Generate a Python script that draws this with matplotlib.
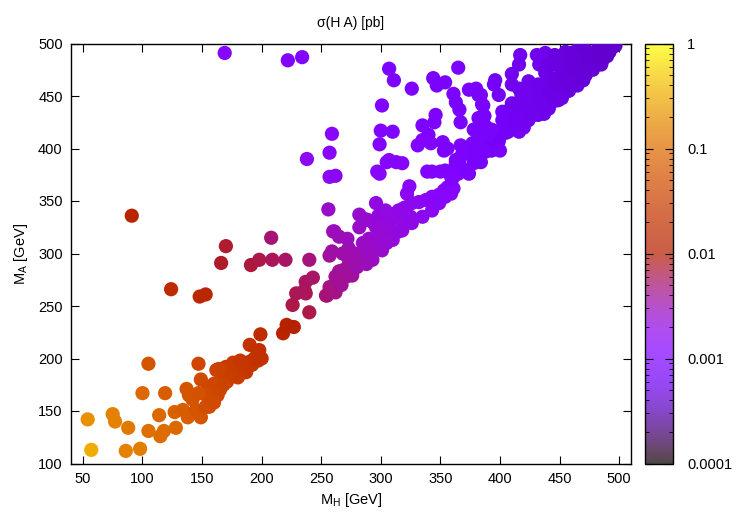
import numpy as np
import matplotlib
matplotlib.use("Agg")
import matplotlib.pyplot as plt
from matplotlib.colors import LogNorm
from matplotlib.ticker import LogLocator, FixedLocator, FuncFormatter, MultipleLocator

plt.rcParams['font.family'] = ['Liberation Sans', 'DejaVu Sans']

# low masses (orange / red)
low_mh = [57, 54, 75, 77, 88, 86, 98, 100, 105, 105, 114, 115, 118, 119, 124, 128, 127, 134, 137, 138,
          142, 143, 145, 147, 149, 149, 148, 153, 153, 156, 157, 163, 162, 166, 171, 173, 166, 170, 179, 184,
          183, 190, 187, 197, 198, 190, 199, 200, 191, 198, 218, 221, 227, 208, 209, 220, 91, 155, 158, 160,
          165, 168, 170, 175, 178, 180, 185, 188, 192, 194, 196, 160, 164, 152, 168, 176, 182, 139, 147]
low_ma = [113, 142, 147, 140, 134, 112, 114, 167, 131, 195, 146, 126, 131, 167, 266, 134, 149, 151, 171, 144,
          161, 148, 151, 195, 180, 144, 259, 261, 154, 154, 162, 165, 189, 179, 178, 191, 291, 307, 195, 195,
          186, 197, 187, 198, 208, 213, 223, 200, 289, 294, 224, 232, 230, 315, 294, 294, 336, 172, 168, 176,
          170, 184, 192, 185, 190, 182, 190, 195, 194, 200, 203, 158, 190, 166, 175, 196, 198, 165, 167]
low_xs = [0.32, 0.2, 0.15, 0.15, 0.13, 0.15, 0.14, 0.09, 0.11, 0.06, 0.09, 0.1, 0.1, 0.07, 0.016, 0.09, 0.08, 0.07, 0.06, 0.07,
          0.06, 0.065, 0.06, 0.04, 0.045, 0.06, 0.014, 0.013, 0.05, 0.05, 0.045, 0.04, 0.035, 0.035, 0.032, 0.03, 0.008, 0.0075, 0.025, 0.024,
          0.025, 0.022, 0.024, 0.02, 0.019, 0.02, 0.016, 0.02, 0.007, 0.0065, 0.012, 0.011, 0.011, 0.005, 0.006, 0.0055, 0.012, 0.042, 0.042, 0.04,
          0.038, 0.034, 0.031, 0.031, 0.028, 0.029, 0.026, 0.024, 0.023, 0.021, 0.02, 0.045, 0.034, 0.045, 0.036, 0.028, 0.025, 0.06, 0.055]

# intermediate masses (magenta / purple)
mid_mh = [226, 229, 237, 236, 237, 243, 240, 240, 254, 257, 261, 255, 262, 262, 265, 276, 273, 257, 259, 272,
          273, 265, 261, 272, 282, 282, 289, 296, 283, 293, 287, 290, 299, 301, 296, 308, 310, 315, 319, 322,
          256, 286, 260, 268, 279, 296, 305, 312, 312, 293, 298, 304, 265, 271, 267, 268, 278, 285, 292, 298,
          318, 325, 280, 288, 300, 301, 315, 321, 326, 332, 338, 343, 349, 353, 356, 310, 318, 326, 335, 343,
          349, 354, 359, 361, 304, 298]
mid_ma = [251, 262, 262, 265, 273, 277, 244, 294, 260, 268, 265, 260, 263, 278, 283, 279, 289, 298, 302, 297,
          305, 316, 321, 314, 325, 337, 332, 348, 295, 294, 305, 314, 319, 303, 325, 332, 313, 321, 343, 357,
          342, 333, 321, 284, 292, 308, 310, 321, 338, 330, 336, 341, 275, 278, 270, 300, 300, 310, 300, 308,
          330, 335, 287, 290, 312, 325, 341, 344, 348, 349, 351, 354, 356, 360, 363, 319, 322, 329, 335, 341,
          348, 354, 357, 362, 313, 316]
mid_xs = [0.0065, 0.0062, 0.006, 0.006, 0.0058, 0.0055, 0.0065, 0.0048, 0.005, 0.0045, 0.0045, 0.005, 0.0045, 0.0042, 0.004, 0.0038, 0.0036, 0.0038, 0.0036, 0.0034,
          0.0032, 0.0032, 0.0032, 0.003, 0.0027, 0.0025, 0.0024, 0.0021, 0.003, 0.0028, 0.0027, 0.0026, 0.0024, 0.0025, 0.0024, 0.0021, 0.0022, 0.0021, 0.0018, 0.0017,
          0.0027, 0.0025, 0.003, 0.0038, 0.0034, 0.0026, 0.0025, 0.0022, 0.002, 0.0024, 0.0022, 0.002, 0.004, 0.0039, 0.004, 0.0034, 0.0032, 0.0028, 0.0028, 0.0026,
          0.002, 0.0019, 0.0033, 0.003, 0.0025, 0.0023, 0.0019, 0.0018, 0.0017, 0.0016, 0.0015, 0.0014, 0.0013, 0.0013, 0.0012, 0.0022, 0.0021, 0.0019, 0.0017, 0.0015,
          0.0014, 0.0013, 0.0013, 0.0012, 0.0023, 0.0024]

# scattered points above the band
up_mh = [169, 222, 234, 259, 257, 238, 257, 262, 299, 299, 297, 307, 313, 318, 324, 301, 307, 311, 326, 310,
         300, 335, 346, 345, 340, 342, 331, 335, 352, 353, 356, 367, 370, 344, 347, 354, 365, 361, 363, 366,
         367, 374, 380, 384, 386, 387, 381, 385, 379, 384, 378, 366, 374, 377, 363, 305, 339, 343, 354, 359,
         361, 365, 350, 363, 368, 372, 377, 385, 391, 382, 388, 393, 360]
up_ma = [491, 484, 487, 414, 396, 390, 373, 374, 404, 376, 378, 389, 387, 386, 364, 441, 476, 465, 457, 416,
         417, 422, 432, 425, 413, 405, 403, 408, 406, 398, 400, 403, 395, 467, 460, 463, 477, 452, 444, 437,
         425, 456, 457, 451, 441, 431, 416, 410, 400, 387, 386, 386, 376, 392, 386, 387, 378, 378, 379, 373,
         375, 376, 378, 389, 394, 379, 405, 405, 408, 392, 398, 398, 371]
up_xs = [0.0012, 0.0011, 0.001, 0.0013, 0.0014, 0.0016, 0.0016, 0.0015, 0.0011, 0.0013, 0.0013, 0.0012, 0.0012, 0.0012, 0.0013, 0.001, 0.0009, 0.0009, 0.0009, 0.001,
         0.001, 0.0009, 0.0009, 0.0009, 0.0009, 0.001, 0.001, 0.001, 0.0009, 0.0009, 0.0009, 0.0009, 0.0009, 0.0008, 0.0008, 0.0008, 0.0008, 0.0008, 0.0008, 0.0008,
         0.0008, 0.0008, 0.0008, 0.0008, 0.0008, 0.0008, 0.0008, 0.0008, 0.0008, 0.0008, 0.0008, 0.0009, 0.0009, 0.0008, 0.0009, 0.0012, 0.001, 0.001, 0.001, 0.001,
         0.001, 0.001, 0.001, 0.0009, 0.0009, 0.0009, 0.0008, 0.0008, 0.0008, 0.0008, 0.0008, 0.0008, 0.001]

# heavy masses, dense band near the diagonal
high_mh = [396, 392, 400, 407, 416, 405, 421, 396, 399, 417, 416, 410, 431, 438, 433, 395, 410, 416, 410, 416,
           421, 427, 402, 413, 416, 378, 384, 393, 399, 382, 393, 399, 407, 413, 418, 424, 432, 441, 449, 455,
           463, 472, 480, 488, 497, 402, 410, 418, 424, 438, 441, 446, 455, 466, 483, 494, 410, 416, 424, 430,
           427, 435, 438, 444, 446, 452, 455, 458, 460, 466, 469, 474, 477, 483, 486, 491, 452, 460, 472, 446,
           432, 382, 385, 382, 388, 391, 388, 382, 405, 440, 450, 445, 460, 470, 480, 435, 425, 450, 465, 475,
           488, 495, 490, 478, 405, 412, 420, 428, 436, 442, 448, 455, 462, 468, 475, 482, 437, 445, 452, 458,
           465, 470, 478, 485, 492, 420, 428, 400, 433, 457]
high_ma = [403, 411, 417, 421, 427, 435, 433, 465, 451, 489, 480, 471, 489, 491, 480, 461, 461, 457, 440, 443,
           446, 449, 427, 421, 416, 418, 421, 418, 408, 388, 400, 407, 416, 419, 426, 427, 432, 438, 446, 454,
           461, 470, 480, 489, 498, 435, 443, 451, 464, 472, 480, 489, 492, 496, 498, 498, 432, 438, 442, 448,
           454, 454, 461, 467, 457, 473, 464, 480, 470, 486, 476, 489, 483, 491, 484, 494, 486, 491, 494, 480,
           461, 451, 442, 429, 421, 413, 397, 410, 426, 450, 460, 445, 478, 485, 490, 440, 435, 452, 468, 478,
           495, 497, 488, 488, 415, 428, 440, 440, 447, 455, 462, 470, 475, 480, 485, 487, 433, 450, 448, 455,
           460, 465, 475, 480, 492, 420, 432, 398, 444, 462]
high_xs = [0.0007, 0.0007, 0.0007, 0.0007, 0.0007, 0.0007, 0.0007, 0.0006, 0.0007, 0.0006, 0.0006, 0.0006, 0.0006, 0.0006, 0.0006, 0.0007, 0.0006, 0.0006, 0.0007, 0.0007,
           0.0006, 0.0006, 0.0007, 0.0007, 0.0007, 0.0008, 0.0008, 0.0008, 0.0008, 0.0008, 0.0007, 0.0007, 0.0007, 0.0007, 0.0007, 0.0006, 0.0006, 0.0006, 0.0005, 0.0005,
           0.0005, 0.00045, 0.00042, 0.0004, 0.00038, 0.0007, 0.0006, 0.0006, 0.0006, 0.00055, 0.00052, 0.0005, 0.00048, 0.00045, 0.0004, 0.00038, 0.0007, 0.0006, 0.0006, 0.0006,
           0.0006, 0.00058, 0.00055, 0.00052, 0.00055, 0.0005, 0.0005, 0.00048, 0.00048, 0.00045, 0.00046, 0.00043, 0.00044, 0.00042, 0.00042, 0.0004, 0.00048, 0.00046, 0.00043, 0.0005,
           0.00058, 0.0008, 0.0008, 0.0008, 0.0008, 0.0008, 0.0008, 0.0008, 0.0007, 0.00055, 0.0005, 0.00055, 0.00046, 0.00044, 0.00042, 0.0006, 0.0006, 0.0005, 0.00047, 0.00044,
           0.0004, 0.00038, 0.0004, 0.00043, 0.0007, 0.00065, 0.0006, 0.0006, 0.00056, 0.00053, 0.0005, 0.00048, 0.00046, 0.00045, 0.00043, 0.00042, 0.00058, 0.00053, 0.00052, 0.0005,
           0.00047, 0.00046, 0.00044, 0.00042, 0.0004, 0.00065, 0.0006, 0.0008, 0.00057, 0.00048]

mh = np.array(low_mh + mid_mh + up_mh + high_mh)
ma = np.array(low_ma + mid_ma + up_ma + high_ma)
xs = np.array(low_xs + mid_xs + up_xs + high_xs)

cb_ticks = [1e-4, 1e-3, 1e-2, 1e-1, 1]

fig = plt.figure(figsize=(7.5, 5.25), dpi=100)
ax = fig.add_axes([71 / 750, 61.5 / 525, 560 / 750, 420 / 525])
cax = fig.add_axes([645 / 750, 61.5 / 525, 28 / 750, 420 / 525])

norm = LogNorm(vmin=1e-4, vmax=1)
sc = ax.scatter(mh, ma, c=xs, cmap='gnuplot', norm=norm, s=105, linewidths=0, zorder=3)

ax.set_xlim(40, 510)
ax.set_ylim(100, 500)
ax.set_xticks(np.arange(50, 501, 50))
ax.yaxis.set_major_locator(MultipleLocator(50))
ax.tick_params(direction='in', length=6, width=0.8, top=True, right=True, labelsize=10.5, pad=6, colors='black')
for sp in ax.spines.values():
    sp.set_linewidth(1.0)

ax.set_xlabel('M$_\\mathregular{H}$ [GeV]', fontsize=10.5, labelpad=4)
ax.set_ylabel('M$_\\mathregular{A}$ [GeV]', fontsize=10.5, labelpad=6)
ax.set_title('σ(H A) [pb]', fontsize=10, pad=12)

cb = fig.colorbar(sc, cax=cax)
cb.solids.set_alpha(0.72)
cb.outline.set_linewidth(1.0)
cax.yaxis.set_major_locator(FixedLocator(cb_ticks))
cax.yaxis.set_major_formatter(FuncFormatter(lambda v, p: '%g' % v))
cax.yaxis.set_minor_locator(LogLocator(base=10, subs=np.arange(2, 10)))
cax.tick_params(which='major', direction='in', length=6, width=0.8, left=True, right=True, labelsize=10.5, pad=10)
cax.tick_params(which='minor', direction='in', length=3, width=0.6, left=True, right=True)

fig.savefig('out.png', dpi=100)
